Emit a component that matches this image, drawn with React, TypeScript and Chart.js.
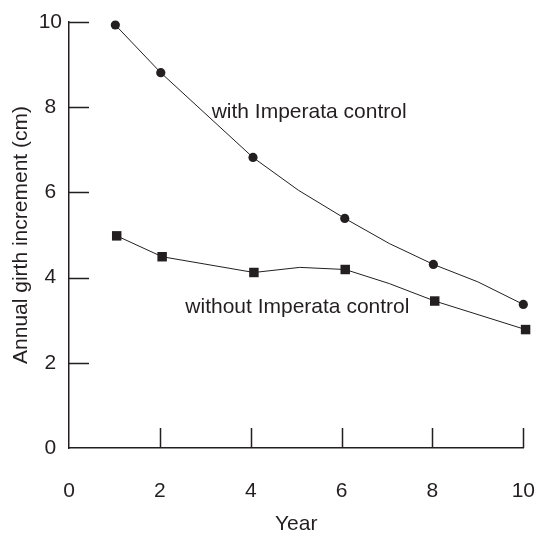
import React, { useEffect, useRef } from "react";
import { Chart, registerables } from "chart.js";

Chart.register(...registerables);

// ---- data ----
const withYears = [1.02, 2.02, 4.05, 5.05, 6.07, 7.05, 8.02, 9.0, 10];
const withValues = [9.93, 8.81, 6.82, 6.05, 5.39, 4.8, 4.31, 3.9, 3.37];
const withMarked = [true, true, true, false, true, false, true, false, true];

const withoutYears = [1.05, 2.05, 4.07, 5.08, 6.08, 7.05, 8.05, 10.05];
const withoutValues = [4.98, 4.49, 4.12, 4.24, 4.19, 3.86, 3.45, 2.78];
const withoutMarked = [true, true, true, false, true, false, true, true];

const xTicks = [0, 2, 4, 6, 8, 10];
const yTicks = [0, 2, 4, 6, 8, 10];

const seriesLabels = ["with Imperata control", "without Imperata control"];
const labelAnchorX = [3.14, 2.56];
const labelAnchorY = [7.74, 3.16];

const xTitle = "Year";
const yTitle = "Annual girth increment (cm)";

const INK = "#231f20";
const FONT = "'Liberation Sans', Arial, Helvetica, sans-serif";

const toPoints = (xs: number[], ys: number[]) => xs.map((x, i) => ({ x, y: ys[i] }));

const innerTicks = {
  id: "innerTicks",
  afterDatasetsDraw(chart: any) {
    const { ctx, chartArea, scales } = chart;
    const xs = scales.x;
    const ys = scales.y;
    ctx.save();
    ctx.strokeStyle = INK;
    ctx.lineWidth = 1.5;
    ctx.beginPath();
    xTicks.forEach((v) => {
      if (v === 0) return;
      const px = Math.round(xs.getPixelForValue(v)) + 0.5;
      ctx.moveTo(px, chartArea.bottom);
      ctx.lineTo(px, chartArea.bottom - 20);
    });
    yTicks.forEach((v) => {
      if (v === 0) return;
      const py = Math.round(ys.getPixelForValue(v)) + 0.5;
      ctx.moveTo(chartArea.left, py);
      ctx.lineTo(chartArea.left + 20, py);
    });
    ctx.stroke();
    // series annotations
    ctx.fillStyle = INK;
    ctx.font = `21px ${FONT}`;
    ctx.textAlign = "left";
    ctx.textBaseline = "alphabetic";
    seriesLabels.forEach((t, i) => {
      ctx.fillText(t, xs.getPixelForValue(labelAnchorX[i]), ys.getPixelForValue(labelAnchorY[i]));
    });
    ctx.restore();
  },
};

export default function App() {
  const ref = useRef<HTMLCanvasElement | null>(null);
  useEffect(() => {
    if (!ref.current) return;
    const chart = new Chart(ref.current, {
      type: "line",
      data: {
        datasets: [
          {
            label: seriesLabels[0],
            data: toPoints(withYears, withValues),
            borderColor: INK,
            borderWidth: 1,
            backgroundColor: INK,
            pointStyle: "circle",
            pointRadius: withMarked.map((m) => (m ? 4.6 : 0)),
            pointBorderWidth: 0,
            pointBackgroundColor: INK,
            tension: 0,
            clip: false,
          } as any,
          {
            label: seriesLabels[1],
            data: toPoints(withoutYears, withoutValues),
            borderColor: INK,
            borderWidth: 1,
            backgroundColor: INK,
            pointStyle: "rect",
            pointRadius: withoutMarked.map((m) => (m ? 6.7 : 0)),
            pointBorderWidth: 0,
            pointBackgroundColor: INK,
            tension: 0,
            clip: false,
          } as any,
        ],
      },
      options: {
        animation: false,
        responsive: false,
        events: [],
        layout: { padding: { left: 0, top: 22, right: 11, bottom: 0 }, autoPadding: false } as any,
        plugins: { legend: { display: false }, tooltip: { enabled: false } },
        scales: {
          x: {
            type: "linear",
            min: 0,
            max: 10,
            afterBuildTicks: (s: any) => {
              s.ticks = xTicks.map((v) => ({ value: v }));
            },
            afterFit: (s: any) => {
              s.height = 85;
            },
            grid: { display: false, drawTicks: false },
            border: { display: true, color: INK, width: 1.5 },
            ticks: {
              color: INK,
              font: { family: FONT, size: 21, lineHeight: 4.1 },
              padding: 0,
              maxRotation: 0,
              autoSkip: false,
            },
            title: {
              display: true,
              text: xTitle,
              color: INK,
              font: { family: FONT, size: 21 },
              padding: { top: 0, bottom: -3.6 },
            },
          },
          y: {
            type: "linear",
            min: 0,
            max: 10,
            afterBuildTicks: (s: any) => {
              s.ticks = yTicks.map((v) => ({ value: v }));
            },
            afterFit: (s: any) => {
              s.width = 69;
            },
            grid: { display: false, drawTicks: false },
            border: { display: true, color: INK, width: 1.5 },
            ticks: {
              color: INK,
              font: { family: FONT, size: 21 },
              padding: 7,
              crossAlign: "center",
              autoSkip: false,
            },
            title: {
              display: true,
              text: yTitle,
              color: INK,
              font: { family: FONT, size: 21 },
              padding: { top: 9, bottom: 0 },
            },
          },
        },
      },
      plugins: [innerTicks],
    });
    return () => chart.destroy();
  }, []);
  return (
    <div style={{ position: "fixed", left: 0, top: 0, width: 535, height: 533, background: "#fff" }}>
      <canvas ref={ref} width={535} height={533} style={{ display: "block" }} />
    </div>
  );
}
